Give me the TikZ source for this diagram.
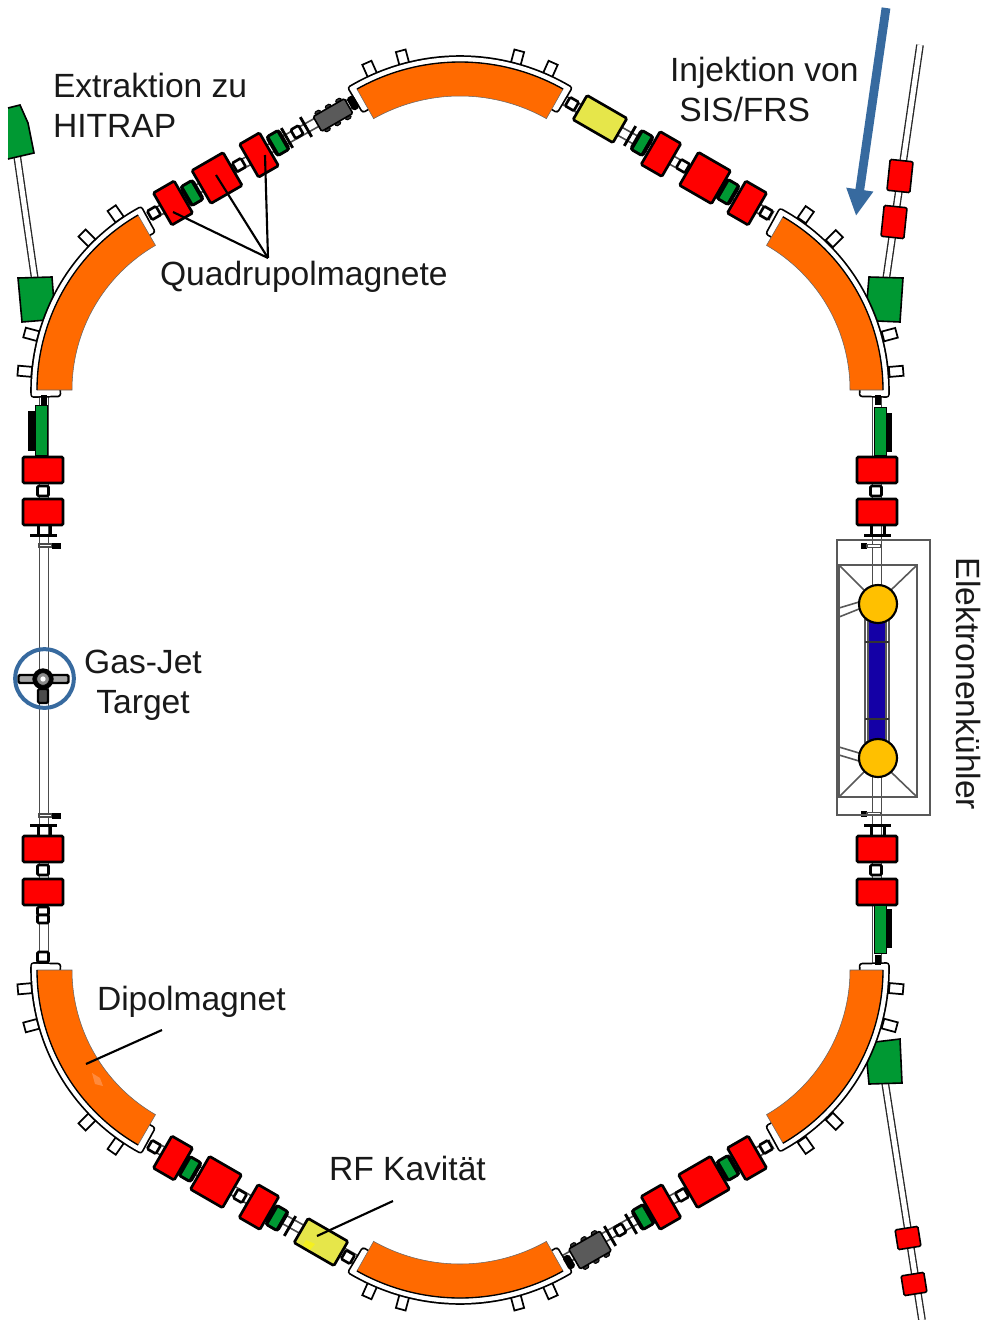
\documentclass[tikz,border=0pt]{standalone}
\usepackage{fontspec}
\setmainfont{Liberation Sans}
\usetikzlibrary{arrows.meta}
\definecolor{oran}{HTML}{FF6A00}
\definecolor{oranlight}{HTML}{FF8A3C}
\definecolor{grn}{HTML}{009933}
\definecolor{yel}{HTML}{E6E64A}
\definecolor{yelspot}{HTML}{F5F020}
\definecolor{gold}{HTML}{FFC000}
\definecolor{cool}{HTML}{1400A6}
\definecolor{arrowblue}{HTML}{376A9F}
\definecolor{gry}{HTML}{5A5A5A}
\tikzset{
  x=0.75pt,y=-0.75pt,
  bx/.style n args={4}{draw=black,fill=#1,rotate=#2,minimum width=#3*0.75pt,minimum height=#4*0.75pt,
     inner sep=0pt,outer sep=0pt,rounded corners=1pt,line width=2pt},
  thinbx/.style n args={4}{bx={#1}{#2}{#3}{#4},line width=1.3pt,rounded corners=0pt},
  pipe/.style={draw=black!70,line width=1.3pt,double=white,double distance=5.4pt},
  tpipe/.style={draw=black!85,line width=1pt,double=white,double distance=3.8pt},
  lead/.style={draw=black,line width=1.6pt},
  cooler/.style={draw=black!65,line width=1.2pt},
  lab/.style={font=\fontsize{25.2}{30}\selectfont,text=black!90,inner sep=0pt,outer sep=0pt},
}
\newcommand{\portbox}[4]{%
  \node[thinbx={white}{#4}{14}{10}] at ({#1+#3*cos(#4)},{#2-#3*sin(#4)}) {};}
\newcommand{\dipole}[6]{%
  \pgfmathsetmacro{\ca}{#5-1.3}\pgfmathsetmacro{\cb}{#6+1.3}%
  \pgfmathsetmacro{\ri}{#4-21}\pgfmathsetmacro{\ro}{#4+3.6}%
  \path[draw=black,line width=4.8pt,line join=round]
    plot[domain=\ca:\cb,samples=40] ({#1+\ro*cos(\x)},{#2-\ro*sin(\x)}) --
    plot[domain=\cb:\ca,samples=40] ({#1+\ri*cos(\x)},{#2-\ri*sin(\x)}) -- cycle;
  \path[draw=white,fill=white,line width=2.2pt,line join=round]
    plot[domain=\ca:\cb,samples=40] ({#1+\ro*cos(\x)},{#2-\ro*sin(\x)}) --
    plot[domain=\cb:\ca,samples=40] ({#1+\ri*cos(\x)},{#2-\ri*sin(\x)}) -- cycle;
  \path[fill=oran,draw=black!60,line width=0.4pt]
    plot[domain=#5:#6,samples=40] ({#1+#4*cos(\x)},{#2-#4*sin(\x)}) --
    plot[domain=#6:#5,samples=40] ({#1+#3*cos(\x)},{#2-#3*sin(\x)}) -- cycle;
  \draw[black,line width=1pt] plot[domain=#5:#6,samples=40] ({#1+#4*cos(\x)},{#2-#4*sin(\x)});
}
\newcommand{\smallgreen}[3]{%
  \node[bx={black}{#3}{14}{22},rounded corners=2pt] at (#1,#2) {};
  \node[draw=none,fill=grn,rotate=#3,minimum width=6.4pt,minimum height=14pt,inner sep=0pt] at (#1,#2) {};}
\newcommand{\crossbar}[3]{%
  \node[bx={black}{#3}{2}{22},line width=0.6pt,rounded corners=0pt] at (#1,#2) {};}
% grey section: x, y, rotation, height, bump offset
\newcommand{\greysec}[5]{%
  \begin{scope}[shift={(#1,#2)},rotate=#3]
    \foreach \a in {-12,0,12}{
      \node[bx={black!80}{#3}{6}{3},line width=0.7pt] at (\a,#5) {};
      \node[bx={black!80}{#3}{6}{3},line width=0.7pt] at (\a,-#5) {};}
    \node[bx={gry}{#3}{36}{#4},line width=1.2pt] at (0,0) {};
  \end{scope}}
\begin{document}
\begin{tikzpicture}
\useasboundingbox (0,0) rectangle (986,1320);
\fill[white] (0,0) rectangle (986,1320);

% ---------- beam pipes ----------
\coordinate (leftA) at (44,395);
\coordinate (leftB) at (44,966);
\coordinate (rightA) at (877,395);
\coordinate (rightB) at (877,966);
\draw[pipe] (leftA) -- (leftB);
\draw[pipe] (rightA) -- (rightB);
\coordinate (tlA) at (150,216); \coordinate (tlB) at (360,98);
\coordinate (trA) at (560,98);  \coordinate (trB) at (772,216);
\coordinate (blA) at (150,1144); \coordinate (blB) at (360,1262);
\coordinate (brA) at (560,1262); \coordinate (brB) at (772,1144);
\draw[pipe] (tlA) -- (tlB);
\draw[pipe] (trA) -- (trB);
\draw[pipe] (blA) -- (blB);
\draw[pipe] (brA) -- (brB);
\coordinate (injT) at (920,45);  \coordinate (injE) at (886,280);
\coordinate (extT) at (17,155);  \coordinate (extE) at (35,280);
\coordinate (outT) at (885,1082);\coordinate (outE) at (922,1320);
\draw[tpipe] (injT) -- (injE);
\draw[tpipe] (extT) -- (extE);
\draw[tpipe] (outT) -- (outE);

% ---------- green septa ----------
\draw[fill=grn,draw=black,line width=1.2pt] (8,108) -- (20,105) -- (28,123) -- (34,153) -- (8,159);
\draw[fill=grn,draw=black,line width=1.2pt] (18,278) -- (52,277) -- (54,303) -- (47,320) -- (22,322) -- cycle;
\draw[fill=grn,draw=black,line width=1.2pt] (869,277) -- (903,278) -- (900,322) -- (877,321) -- (867,300) -- cycle;
\draw[fill=grn,draw=black,line width=1.2pt] (875,1042) -- (900,1039) -- (902,1083) -- (869,1084) -- (867,1063) -- cycle;

% ---------- lower-left flange below chamber ----------
\node[bx={white}{0}{11}{10}] (lF5) at (43,957) {};

% ---------- dipole ports ----------
\foreach \a in {66,75,105,114} {\portbox{460}{272}{222}{\a}}
\foreach \a in {246,255,285,294} {\portbox{460}{1088}{222}{\a}}
\foreach \a in {125,135,165,175} {\portbox{239}{390}{215}{\a}}
\foreach \a in {185,195,225,235} {\portbox{239}{970}{215}{\a}}
\foreach \a in {5,15,45,55} {\portbox{683}{390}{214}{\a}}
\foreach \a in {305,315,345,355} {\portbox{683}{970}{214}{\a}}

% ---------- dipoles ----------
\dipole{460}{272}{176}{210}{60.6}{119.4}
\dipole{460}{1088}{176}{210}{240.6}{299.4}
\dipole{239}{390}{167}{202}{120}{180}
\dipole{239}{970}{167}{202}{180}{240}
\dipole{683}{390}{167}{200}{0}{60}
\dipole{683}{970}{167}{200}{300}{360}
\fill[oranlight] (92,1073) -- (100,1078) -- (103,1086) -- (95,1084) -- cycle;

% ---------- upper left straight ----------
\node[bx={white}{30}{10}{10}] (tlF1) at (154,213) {};
\node[bx={red}{30}{24}{37}] (tlQ1) at (173,203) {};
\smallgreen{192}{193}{30}
\node[bx={red}{30}{36}{38}] (tlQ2) at (217,178) {};
\node[bx={white}{30}{10}{10}] (tlF2) at (239,165) {};
\node[bx={red}{30}{23}{38}] (tlQ3) at (259,155) {};
\smallgreen{278}{143}{30}
\crossbar{287}{138}{30}
\node[bx={white}{30}{9}{10}] (tlF3) at (297,132) {};
\crossbar{306}{127}{30}
\greysec{333}{115}{30}{17}{10}
\node[bx={black}{30}{5}{12}] (tlF4) at (353,103) {};

% ---------- upper right straight ----------
\node[bx={white}{-30}{10}{10}] (trF1) at (572,104) {};
\node[bx={yel}{-30}{46}{28}] (trC) at (600,119) {};
\crossbar{630}{136}{-30}
\smallgreen{642}{143}{-30}
\node[bx={red}{-30}{24}{38}] (trQ3) at (661,154) {};
\node[bx={white}{-30}{10}{10}] (trF2) at (683,166) {};
\node[bx={red}{-30}{37}{38}] (trQ2) at (705,178) {};
\smallgreen{728}{192}{-30}
\node[bx={red}{-30}{24}{37}] (trQ1) at (747,203) {};
\node[bx={white}{-30}{10}{10}] (trF3) at (766,213) {};

% ---------- lower left straight ----------
\node[bx={white}{-30}{10}{10}] (blF1) at (154,1147) {};
\node[bx={red}{-30}{24}{37}] (blQ1) at (173,1158) {};
\smallgreen{190}{1169}{-30}
\node[bx={red}{-30}{37}{38}] (blQ2) at (216,1182) {};
\node[bx={white}{-30}{10}{10}] (blF2) at (240,1196) {};
\node[bx={red}{-30}{24}{38}] (blQ3) at (259,1207) {};
\smallgreen{277}{1218}{-30}
\crossbar{290}{1226}{-30}
\node[bx={yel}{-30}{46}{28}] (blC) at (321,1242) {};
\fill[yelspot] (306,1240) -- (315,1244) -- (310,1250) -- (303,1245) -- cycle;
\node[bx={white}{-30}{10}{10}] (blF3) at (348,1257) {};

% ---------- lower right straight ----------
\node[bx={white}{30}{10}{10}] (brF1) at (766,1147) {};
\node[bx={red}{30}{24}{37}] (brQ1) at (747,1158) {};
\smallgreen{728}{1168}{30}
\node[bx={red}{30}{37}{38}] (brQ2) at (704,1182) {};
\node[bx={white}{30}{10}{10}] (brF2) at (682,1195) {};
\node[bx={red}{30}{24}{38}] (brQ3) at (661,1207) {};
\smallgreen{643}{1217}{30}
\crossbar{631}{1224}{30}
\node[bx={white}{30}{9}{10}] (brF3) at (620,1230) {};
\crossbar{610}{1236}{30}
\greysec{590}{1250}{30}{23}{13}
\node[bx={black}{30}{5}{12}] (brF4) at (569,1262) {};

% ---------- left vertical straight ----------
\draw[fill=black,draw=white,line width=0.5pt] (27,410) rectangle (36,451);
\node[bx={grn}{0}{12}{50},line width=0.6pt,rounded corners=0pt] (lG1) at (41,430) {};
\node[bx={black}{0}{5}{8},rounded corners=0pt,line width=1pt] (lS1) at (44,400) {};
\node[bx={white}{0}{11}{10}] (lF1) at (43,491) {};
\node[bx={red}{0}{40}{26}] (lQ1) at (43,470) {};
\node[bx={red}{0}{40}{26}] (lQ2) at (43,512) {};
\node[bx={black}{0}{26}{2},rounded corners=0pt,line width=0.5pt] (lB1) at (43,535) {};
\node[bx={black}{0}{2}{10},rounded corners=0pt,line width=0.5pt] at (38,530) {};
\node[bx={black}{0}{2}{10},rounded corners=0pt,line width=0.5pt] at (50,530) {};
\draw[fill=white,draw=black!70,line width=0.8pt] (39,544) rectangle (52,547);
\node[bx={black}{0}{8}{5},rounded corners=0pt,line width=0.5pt] at (56,545.5) {};
\node[bx={white}{0}{11}{10}] (lF2) at (43,870) {};
\node[bx={red}{0}{40}{26}] (lQ3) at (43,849) {};
\node[bx={red}{0}{40}{26}] (lQ4) at (43,892) {};
\node[bx={black}{0}{26}{2},rounded corners=0pt,line width=0.5pt] (lB2) at (43,825) {};
\node[bx={black}{0}{2}{10},rounded corners=0pt,line width=0.5pt] at (38,830) {};
\node[bx={black}{0}{2}{10},rounded corners=0pt,line width=0.5pt] at (50,830) {};
\draw[fill=white,draw=black!70,line width=0.8pt] (39,814) rectangle (52,817);
\node[bx={black}{0}{8}{5},rounded corners=0pt,line width=0.5pt] at (56,815.5) {};
\node[bx={white}{0}{11}{8}] (lF3) at (43,911) {};
\node[bx={white}{0}{11}{8}] (lF4) at (43,919) {};

% ---------- gas-jet target ----------
\node[bx={black!35}{0}{17}{8},rounded corners=1pt,line width=1.8pt] (tgL) at (27,679) {};
\node[bx={black!35}{0}{17}{8},rounded corners=1pt,line width=1.8pt] (tgR) at (60,679) {};
\node[bx={black!70}{0}{10}{14},rounded corners=1pt,line width=1.6pt] (tgB) at (43,696) {};
\node[circle,fill=black,minimum size=16pt,inner sep=0pt] (tgC) at (43,679) {};
\node[circle,fill=black!45,draw=black,line width=0.6pt,minimum size=9.5pt,inner sep=0pt] (tgD) at (43,679) {};
\node[circle,fill=white,minimum size=4pt,inner sep=0pt] (tgE) at (43,679) {};
\node[circle,draw=arrowblue,line width=3pt,minimum size=44pt,inner sep=0pt] (target) at (44.5,678.5) {};

% ---------- right vertical straight ----------
\draw[fill=black,draw=white,line width=0.5pt] (885,412) rectangle (892,452);
\node[bx={grn}{0}{12}{48},line width=0.6pt,rounded corners=0pt] (rG1) at (880,431) {};
\node[bx={black}{0}{5}{8},rounded corners=0pt,line width=1pt] (rS1) at (878,400) {};
\node[bx={white}{0}{11}{10}] (rF1) at (876,491) {};
\node[bx={red}{0}{40}{26}] (rQ1) at (877,470) {};
\node[bx={red}{0}{40}{26}] (rQ2) at (877,512) {};
\node[bx={black}{0}{26}{2},rounded corners=0pt,line width=0.5pt] (rB1) at (877,535) {};
\node[bx={black}{0}{2}{10},rounded corners=0pt,line width=0.5pt] at (871,530) {};
\node[bx={black}{0}{2}{10},rounded corners=0pt,line width=0.5pt] at (884,530) {};
\draw[fill=black,draw=none] (861,543) rectangle (867,549);
\draw[fill=white,draw=black!70,line width=0.8pt] (867,544.5) rectangle (881,547.5);
\node[bx={white}{0}{11}{10}] (rF2) at (876,870) {};
\node[bx={red}{0}{40}{26}] (rQ3) at (877,849) {};
\node[bx={red}{0}{40}{26}] (rQ4) at (877,892) {};
\node[bx={black}{0}{26}{2},rounded corners=0pt,line width=0.5pt] (rB2) at (877,825) {};
\node[bx={black}{0}{2}{10},rounded corners=0pt,line width=0.5pt] at (871,830) {};
\node[bx={black}{0}{2}{10},rounded corners=0pt,line width=0.5pt] at (884,830) {};
\draw[fill=black,draw=none] (861,811) rectangle (867,817);
\draw[fill=white,draw=black!70,line width=0.8pt] (867,812.5) rectangle (881,815.5);
\draw[fill=black,draw=white,line width=0.5pt] (885,908) rectangle (892,948);
\node[bx={grn}{0}{12}{48},line width=0.6pt,rounded corners=0pt] (rG2) at (880,929) {};
\node[bx={black}{0}{5}{8},rounded corners=0pt,line width=1pt] (rS2) at (878,960) {};

% ---------- electron cooler ----------
\draw[cooler] (837,540) rectangle (930,815);
\draw[cooler] (839,565) rectangle (917,797);
\coordinate (cNW) at (839,565); \coordinate (cNE) at (917,565);
\coordinate (cSW) at (839,797); \coordinate (cSE) at (917,797);
\draw[cooler] (cNW) -- (864,590);
\draw[cooler] (cNE) -- (891,590);
\draw[cooler] (cSW) -- (864,772);
\draw[cooler] (cSE) -- (891,772);
\draw[cooler] (839,608) -- (859,602);
\draw[cooler] (839,617) -- (859,609);
\draw[cooler] (839,747) -- (859,753);
\draw[cooler] (839,755) -- (859,761);
\fill[white] (865,620) rectangle (889,742);
\draw[cooler] (865,620) rectangle (889,742);
\draw[cooler] (868,620) -- (868,742);
\draw[cooler] (886,620) -- (886,742);
\fill[cool] (869,620) rectangle (885,742);
\draw[black!80,line width=1.2pt] (865,642) -- (889,642);
\draw[black!80,line width=1.2pt] (865,719) -- (889,719);
\node[circle,draw=black,fill=gold,line width=1.6pt,minimum size=28.5pt,inner sep=0pt] (cool1) at (878,604) {};
\node[circle,draw=black,fill=gold,line width=1.6pt,minimum size=28.5pt,inner sep=0pt] (cool2) at (878,758) {};

% ---------- transfer line magnets ----------
\node[bx={red}{-6}{23}{31},line width=1.2pt] (iQ1) at (900,176) {};
\node[bx={red}{-6}{23}{31},line width=1.2pt] (iQ2) at (894,222) {};
\node[bx={red}{9}{23}{20},line width=1.2pt] (oQ1) at (908,1238) {};
\node[bx={red}{9}{23}{20},line width=1.2pt] (oQ2) at (914,1284) {};

% ---------- leaders ----------
\coordinate (qApex) at (268,258);
\coordinate (qEnd1) at (173,212);
\coordinate (qEnd2) at (216,175);
\coordinate (qEnd3) at (265,155);
\draw[lead] (qEnd1) -- (qApex);
\draw[lead] (qEnd2) -- (qApex);
\draw[lead] (qEnd3) -- (qApex);
\coordinate (dA) at (162,1030); \coordinate (dB) at (86,1064);
\draw[lead] (dA) -- (dB);
\coordinate (rfA) at (393,1201); \coordinate (rfB) at (317,1236);
\draw[lead] (rfA) -- (rfB);

% ---------- injection arrow ----------
\coordinate (arA) at (886,8); \coordinate (arB) at (856,216);
\draw[arrowblue,line width=6.6pt,-{Triangle[length=20pt,width=19pt]}] (arA) -- (arB);

% ---------- labels ----------
\node[lab,align=left,anchor=west] (tExt) at (53,105) {Extraktion zu\\HITRAP};
\node[lab,align=left,anchor=west] (tInj) at (670,89) {Injektion von\\\hspace*{7pt}SIS/FRS};
\node[lab,anchor=base west] (tQuad) at (160,285) {Quadrupolmagnete};
\node[lab,align=center] (tGas) at (143,685) {Gas-Jet\\Target};
\node[lab,anchor=base west] (tDip) at (97,1010) {Dipolmagnet};
\node[lab,anchor=base west] (tRF) at (329,1180) {RF Kavität};
\node[lab,rotate=-90] (tCool) at (968,684) {Elektronenkühler};
\end{tikzpicture}
\end{document}
